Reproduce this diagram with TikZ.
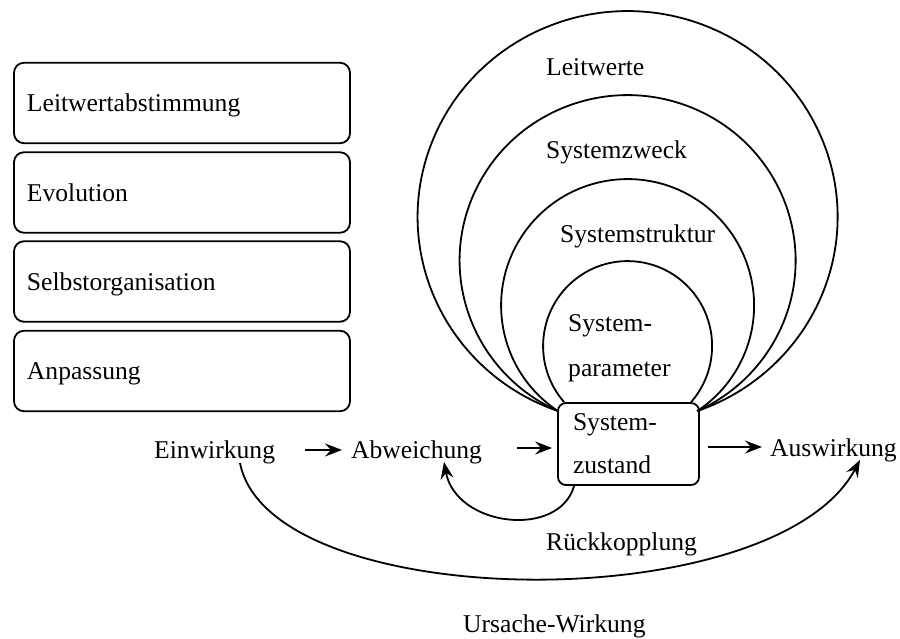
\documentclass[tikz,border=0pt]{standalone}
\usepackage{fontspec}
\setmainfont{Liberation Serif}
\usetikzlibrary{arrows.meta}
\begin{document}
\begin{tikzpicture}[x=1pt,y=1pt,
  every node/.style={font=\fontsize{25.6}{30}\selectfont, inner sep=0pt},
  stage/.style={draw, line width=1.8pt, rounded corners=10pt,
    minimum height=80.5pt, text width=310pt, inner xsep=13pt,
    align=left, text height=18pt, text depth=0pt},
  statebox/.style={draw, line width=1.8pt, rounded corners=8pt,
    minimum width=141pt, minimum height=82pt, text width=111pt,
    inner xsep=15pt, align=left,
    font=\fontsize{25.6}{43}\selectfont},
  ring/.style={line width=1.8pt},
  flow/.style={line width=1.8pt,
    -{Stealth[length=17pt,width=13pt,inset=6pt]}},
  label/.style={anchor=base west}
]
\useasboundingbox (0,0) rectangle (900,639);

% stages of system change
\node[stage] (s1) at (182,536)   {Leitwertabstimmung};
\node[stage] (s2) at (182,446.5) {Evolution};
\node[stage] (s3) at (182,357.5) {Selbstorganisation};
\node[stage] (s4) at (182,268)   {Anpassung};

% system state
\node[statebox] (sz) at (628.5,195) {System-\\zustand};

% nested levels above the system state
\draw[ring] ([shift={(1,-9)}]sz.north west)
  arc[start angle=250.67, end angle=-70.67, x radius=210pt, y radius=205.8pt];
\draw[ring] ([shift={(1,-9)}]sz.north west)
  arc[start angle=245.56, end angle=-65.56, x radius=168pt, y radius=165.4pt];
\draw[ring] ([shift={(1,-9)}]sz.north west)
  arc[start angle=236.67, end angle=-56.67, x radius=126.5pt, y radius=126.4pt];
\draw[ring] ([xshift=7pt]sz.north west)
  arc[start angle=221.28, end angle=-41.28, x radius=84.5pt, y radius=84.95pt];

\node[label] (lw) at (546,563) {Leitwerte};
\node[label] (zw) at (546,480) {Systemzweck};
\node[label] (st) at (560,396) {Systemstruktur};
\node[anchor=north west, align=left, font=\fontsize{25.6}{45}\selectfont]
  (sp) at (568,324.4) {System-\\parameter};

% chain of effects
\node[label] (einw) at (154,180) {Einwirkung};
\node[label] (abw)  at (351,180) {Abweichung};
\node[label] (ausw) at (770,182) {Auswirkung};
\node[label] (rk)   at (546,88)  {Rückkopplung};
\node[label] (uw)   at (463,6)   {Ursache-Wirkung};

\draw[flow] ([shift={(30,9)}]einw.base east) -- ([shift={(-9,9)}]abw.base west);
\draw[flow] ([shift={(35,11)}]abw.base east) -- ([shift={(-5,-4)}]sz.west);
\draw[flow] ([shift={(8,-3)}]sz.east) -- ([shift={(-8,10)}]ausw.base west);

% feedback loop back to the deviation
\draw[flow] ([xshift=17pt]sz.south west)
  .. controls +(-15,-53) and +(12,-65) .. ([shift={(93,-3)}]abw.base west);

% cause and effect
\draw[flow] ([shift={(86,-4)}]einw.base west)
  .. controls +(30,-152) and +(-85,-160) .. ([shift={(90,-3)}]ausw.base west);
\end{tikzpicture}
\end{document}
